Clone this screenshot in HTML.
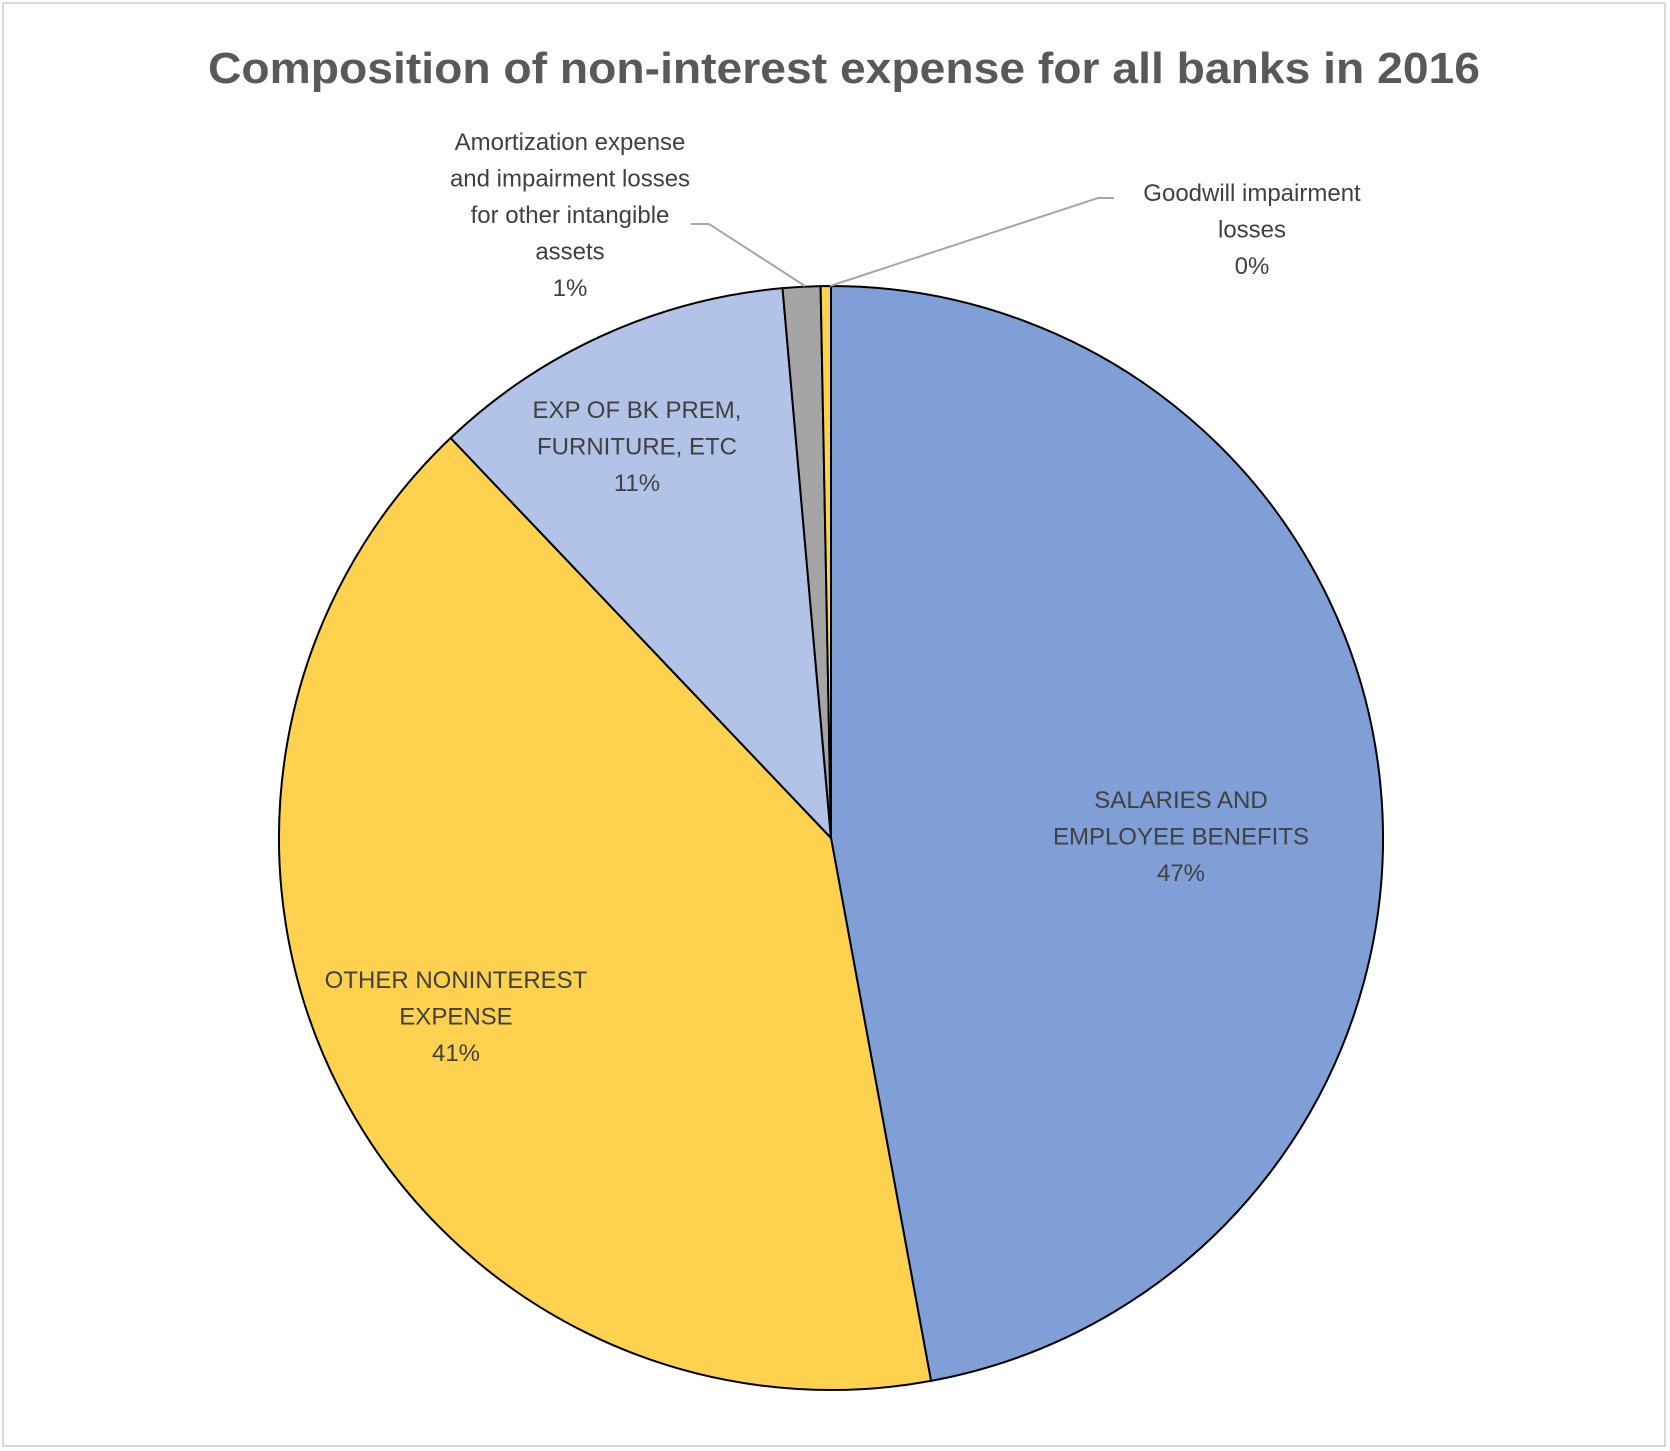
<!DOCTYPE html>
<html><head><meta charset="utf-8"><style>
html,body{margin:0;padding:0;background:#fff;}
svg{display:block;font-family:"Liberation Sans",sans-serif;}
</style></head><body>
<svg id="chart" width="1670" height="1451" viewBox="0 0 1670 1451">
<rect x="3" y="3" width="1662" height="1443" fill="#fff" stroke="#d9d9d9" stroke-width="2"/>
<text x="844" y="83" text-anchor="middle" font-size="44" font-weight="bold" fill="#595959" textLength="1272" lengthAdjust="spacingAndGlyphs">Composition of non-interest expense for all banks in 2016</text>
<g id="slices"></g>
<polyline points="691,224 709,224 805,286" fill="none" stroke="#a6a6a6" stroke-width="2"/>
<polyline points="1114,198 1098,198 830,286" fill="none" stroke="#a6a6a6" stroke-width="2"/>
<g id="labels" font-size="24" fill="#404040" text-anchor="middle"></g>
</svg>
<script>
const categories = ["SALARIES AND EMPLOYEE BENEFITS","OTHER NONINTEREST EXPENSE","EXP OF BK PREM, FURNITURE, ETC","Amortization expense and impairment losses for other intangible assets","Goodwill impairment losses"];
const values = [47.1, 40.8, 10.7, 1.1, 0.3];
const percentLabels = ["47%","41%","11%","1%","0%"];
const colors = ["#7f9fd6","#fed24f","#b2c3e7","#a5a5a5","#fed24f"];
const labelLines = [["SALARIES AND","EMPLOYEE BENEFITS"],["OTHER NONINTEREST","EXPENSE"],["EXP OF BK PREM,","FURNITURE, ETC"],["Amortization expense","and impairment losses","for other intangible","assets"],["Goodwill impairment","losses"]];
const labelPos = [[1181,808],[456,988],[637,418],[570,150],[1252,201]];
const cx=831, cy=838, r=552;
const NS="http://www.w3.org/2000/svg";
const total=values.reduce((a,b)=>a+b,0);
function pt(a){return [cx+r*Math.sin(a), cy-r*Math.cos(a)];}
let ang=0;
const g=document.getElementById('slices');
values.forEach((v,i)=>{
  const a0=ang, a1=ang+v/total*2*Math.PI; ang=a1;
  const p0=pt(a0), p1=pt(a1);
  const large=(a1-a0)>Math.PI?1:0;
  const p=document.createElementNS(NS,'path');
  p.setAttribute('d',`M${cx},${cy}L${p0[0]},${p0[1]}A${r},${r} 0 ${large} 1 ${p1[0]},${p1[1]}Z`);
  p.setAttribute('fill',colors[i]);
  p.setAttribute('stroke','#000');
  p.setAttribute('stroke-width','2');
  p.setAttribute('stroke-linejoin','round');
  
  
  g.appendChild(p);
});
const lg=document.getElementById('labels');
labelLines.forEach((lines,i)=>{
  const t=document.createElementNS(NS,'text');
  
  
  const all=lines.concat([percentLabels[i]]);
  all.forEach((s,j)=>{
    const ts=document.createElementNS(NS,'tspan');
    ts.setAttribute('x',labelPos[i][0]);
    ts.setAttribute('y',labelPos[i][1]+j*36.5);
    ts.textContent=s;
    t.appendChild(ts);
  });
  lg.appendChild(t);
});
</script>
</body></html>
